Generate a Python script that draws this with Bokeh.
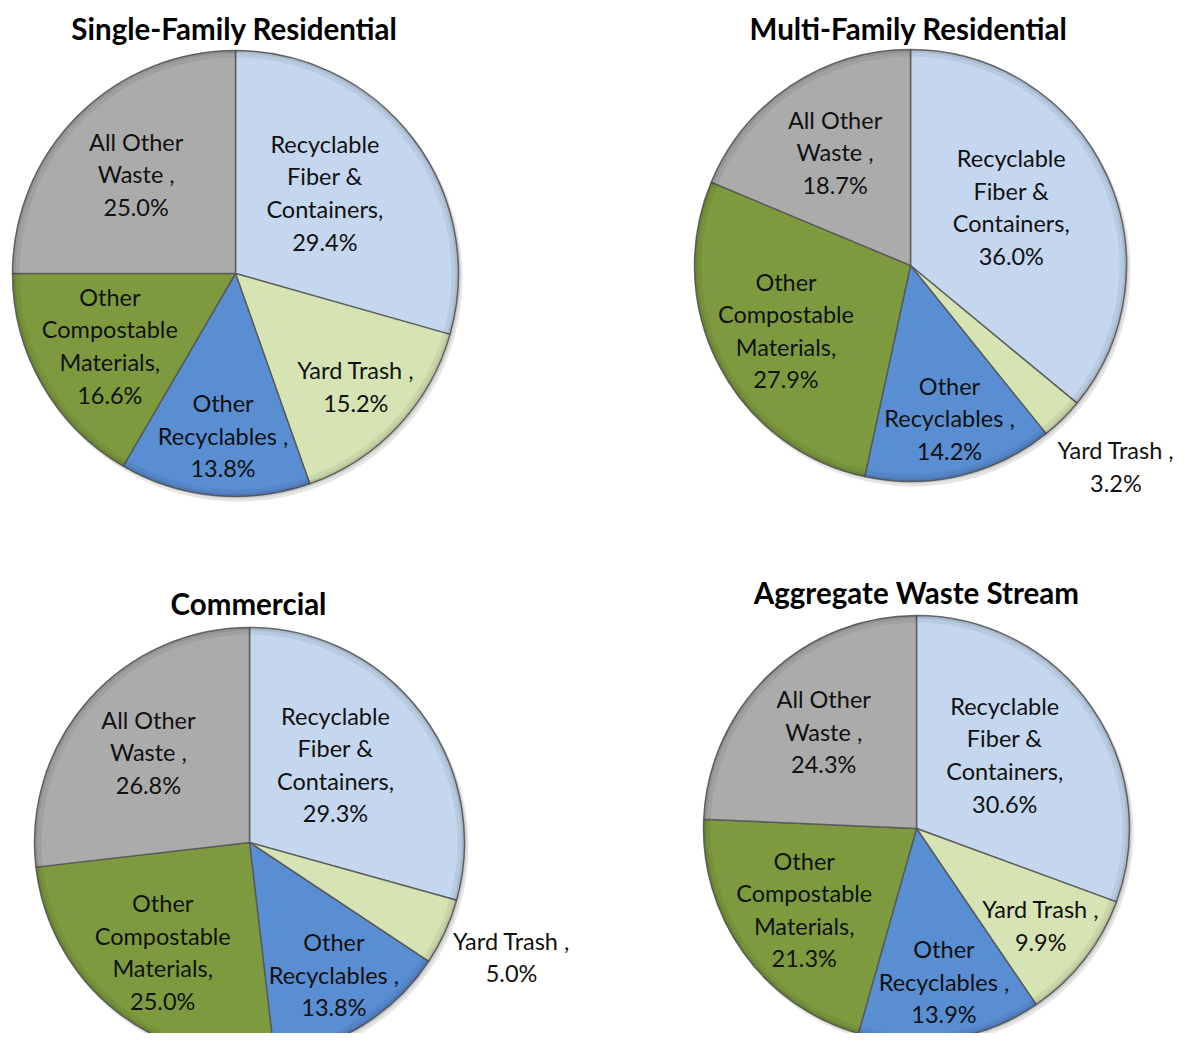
import numpy as np
from bokeh.plotting import figure
from bokeh.models import Range1d, ColumnDataSource
from bokeh.core.properties import value
from bokeh.embed import file_html
from bokeh.resources import INLINE

# ---------------- data ----------------
categories = ["Recyclable Fiber & Containers", "Yard Trash", "Other Recyclables",
              "Other Compostable Materials", "All Other Waste"]
label_lines = [["Recyclable", "Fiber &", "Containers,"],
               ["Yard Trash ,"],
               ["Other", "Recyclables ,"],
               ["Other", "Compostable", "Materials,"],
               ["All Other", "Waste ,"]]
colors = ["#C4D7EF", "#D6E4B4", "#5A8ED3", "#7D9B3E", "#ABABAB"]

titles = ["Single-Family Residential", "Multi-Family Residential",
          "Commercial", "Aggregate Waste Stream"]
single_family = [29.4, 15.2, 13.8, 16.6, 25.0]
multi_family = [36.0, 3.2, 14.2, 27.9, 18.7]
commercial = [29.3, 5.0, 13.8, 25.0, 26.8]
aggregate = [30.6, 9.9, 13.9, 21.3, 24.3]
series = [single_family, multi_family, commercial, aggregate]

# ---------------- layout (image pixel coordinates) ----------------
W, H = 1193, 1049
PW, PH = 1177, 1033
pie_centers = [(235, 273), (910, 265), (249, 842), (916, 828)]
pie_radius = [223, 216, 215, 213]
title_pos = [(234, 28), (908, 28), (248, 603), (916, 592)]
label_rfrac = [0.54, 0.74, 0.73, 0.65, 0.63]
label_dangle = [5.0, 0.0, 1.0, 0.0, 0.0]   # degrees, counter-clockwise nudge
outside_rfrac = 1.33
outside_dangle = 1.0
line_h = 32.6

p = figure(width=PW, height=PH, output_backend="svg", toolbar_location=None,
           x_range=Range1d(0, PW), y_range=Range1d(H - PH, H))
p.axis.visible = False
p.grid.visible = False
p.outline_line_color = None
p.min_border = 0
p.background_fill_color = "white"

FONT = "Lato"

for k, vals in enumerate(series):
    cx, cy_img = pie_centers[k]
    cy = H - cy_img
    r = pie_radius[k]
    v = np.array(vals, dtype=float)
    frac = v / v.sum()
    cum_end = np.cumsum(frac)
    cum_start = cum_end - frac
    start = np.pi / 2 - cum_end * 2 * np.pi
    end = np.pi / 2 - cum_start * 2 * np.pi
    mid = (start + end) / 2

    # soft shadow
    p.circle(x=[cx + 3], y=[cy - 4], radius=r + 1, fill_color="#000000",
             fill_alpha=0.10, line_color=None)
    p.circle(x=[cx + 2], y=[cy - 2], radius=r, fill_color="#000000",
             fill_alpha=0.10, line_color=None)

    src = ColumnDataSource(dict(start=start, end=end, color=colors))
    p.wedge(x=cx, y=cy, radius=r, start_angle="start", end_angle="end",
            fill_color="color", line_color="#555555", line_width=1.5,
            line_alpha=0.85, source=src)
    # bevel rim
    p.annular_wedge(x=cx, y=cy, inner_radius=r - 7, outer_radius=r,
                    start_angle="start", end_angle="end", fill_color="#000000",
                    fill_alpha=0.06, line_color=None, source=src)
    p.annular_wedge(x=cx, y=cy, inner_radius=r - 3, outer_radius=r,
                    start_angle="start", end_angle="end", fill_color="#000000",
                    fill_alpha=0.08, line_color=None, source=src)

    # labels
    xs, ys, txt, yo = [], [], [], []
    for i in range(len(v)):
        inside = v[i] >= 6.0
        rf = label_rfrac[i] if inside else outside_rfrac
        da = np.deg2rad(label_dangle[i] if inside else outside_dangle)
        lx = cx + rf * r * np.cos(mid[i] + da)
        ly = cy + rf * r * np.sin(mid[i] + da)
        lines = label_lines[i] + ["%.1f%%" % v[i]]
        n = len(lines)
        for j, t in enumerate(lines):
            xs.append(lx)
            ys.append(ly)
            txt.append(t)
            yo.append((j - (n - 1) / 2) * line_h)
    p.text(x=xs, y=ys, text=txt, y_offset=yo, text_align="center",
           text_baseline="middle", text_font=value(FONT), text_font_size="23.5px",
           text_color="#111111")

    tx, ty = title_pos[k]
    p.text(x=[tx], y=[H - ty], text=[titles[k]], text_align="center",
           text_baseline="middle", text_font=value(FONT), text_font_size="29.5px",
           text_font_style="bold", text_color="#000000")

open("out.html", "w").write(file_html(p, INLINE))
